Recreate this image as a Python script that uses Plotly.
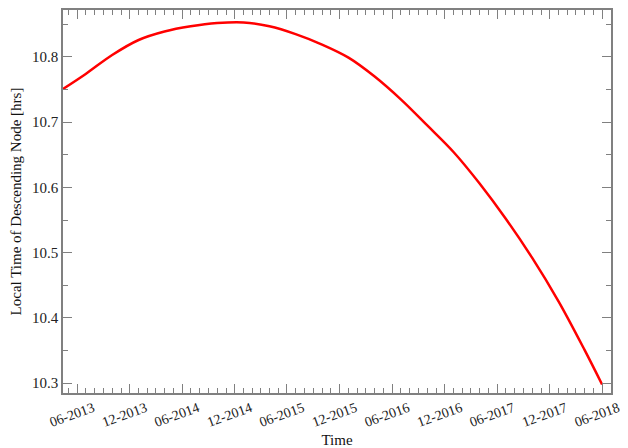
import plotly.graph_objects as go

dates = ["2013-04-13", "2013-07-01", "2013-10-01", "2014-01-01", "2014-04-01",
         "2014-07-01", "2014-10-01", "2015-01-01", "2015-04-01", "2015-07-01",
         "2015-10-01", "2016-01-01", "2016-04-01", "2016-07-01", "2016-10-01",
         "2017-01-01", "2017-04-01", "2017-07-01", "2017-10-01", "2018-01-01",
         "2018-04-01", "2018-06-01"]
ltdn = [10.751, 10.774, 10.803, 10.826, 10.839,
        10.847, 10.852, 10.853, 10.847, 10.835,
        10.819, 10.799, 10.770, 10.735, 10.695,
        10.654, 10.606, 10.552, 10.492, 10.425,
        10.351, 10.298]

tick_dates = ["2013-06-01", "2013-12-01", "2014-06-01", "2014-12-01", "2015-06-01",
              "2015-12-01", "2016-06-01", "2016-12-01", "2017-06-01", "2017-12-01",
              "2018-06-01"]
tick_text = ["06-2013", "12-2013", "06-2014", "12-2014", "06-2015", "12-2015",
             "06-2016", "12-2016", "06-2017", "12-2017", "06-2018"]
y_ticks = [10.3, 10.4, 10.5, 10.6, 10.7, 10.8]

axis_col = "#808080"
font = dict(family="Liberation Serif, Times New Roman, serif", size=15, color="#222")

fig = go.Figure()
fig.add_trace(go.Scatter(x=dates, y=ltdn, mode="lines",
                         line=dict(color="#ff0000", width=2.5, shape="spline"),
                         showlegend=False))

fig.update_layout(
    width=620, height=440,
    margin=dict(l=55, r=17, t=2, b=55),
    paper_bgcolor="white", plot_bgcolor="white",
    font=font,
    xaxis=dict(
        type="date", range=["2013-04-13", "2018-07-02"], automargin=False,
        tickmode="array", tickvals=tick_dates, ticktext=tick_text,
        tickangle=-20, ticklabelshift=16, ticklabeloverflow="allow",
        tickfont=dict(size=14),
        ticks="inside", ticklen=9, tickwidth=1.2, tickcolor=axis_col,
        minor=dict(ticks="inside", dtick="M1", tick0="2013-06-01", ticklen=5,
                   tickwidth=1, tickcolor=axis_col, showgrid=False),
        showline=True, linecolor=axis_col, linewidth=1.5, mirror="allticks",
        showgrid=False, zeroline=False,
        title=dict(text="Time", font=dict(size=15, color="#111")),
    ),
    yaxis=dict(
        range=[10.285, 10.872], automargin=False,
        tickmode="array", tickvals=y_ticks, ticktext=[f"{v:.1f}" for v in y_ticks],
        ticks="inside", ticklen=9, tickwidth=1.2, tickcolor=axis_col,
        minor=dict(ticks="inside", dtick=0.05, tick0=10.3, ticklen=5,
                   tickwidth=1, tickcolor=axis_col, showgrid=False),
        showline=True, linecolor=axis_col, linewidth=1.5, mirror="allticks",
        showgrid=False, zeroline=False,
        title=dict(text="Local Time of Descending Node [hrs]",
                   font=dict(size=15, color="#111")),
    ),
)

fig.write_html("out.html")
